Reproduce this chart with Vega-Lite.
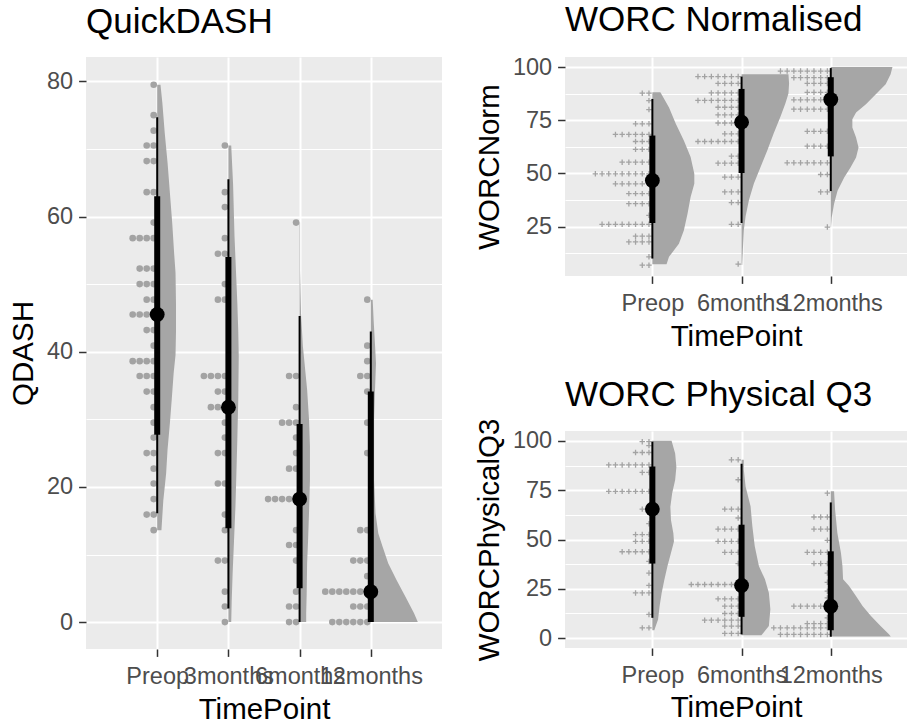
{
  "$schema": "https://vega.github.io/schema/vega-lite/v6.json",
  "background": "white",
  "padding": {"left": 8, "top": 3, "right": 0, "bottom": 0},
  "config": {
    "view": {"fill": "#EBEBEB", "stroke": null},
    "axis": {"domain": false, "gridColor": "white", "tickColor": "#333333", "tickSize": 7.4, "tickWidth": 1.5, "labelColor": "#4D4D4D", "labelFont": "Liberation Sans", "labelFontSize": 23.5, "labelPadding": 6, "titleFont": "Liberation Sans", "titleFontSize": 29.5, "titleFontWeight": "normal", "titleColor": "black", "titlePadding": 8},
    "axisX": {"labelAngle": 0, "labelPadding": 8, "titlePadding": 8},
    "axisY": {"labelOverlap": false, "tickCount": 50},
    "title": {"anchor": "start", "frame": "group", "font": "Liberation Sans", "fontSize": 35, "fontWeight": "normal", "color": "black", "baseline": "alphabetic", "offset": 17}
  },
  "datasets": {
    "qd_dots": [
      {"t":"Preop","v":79.5},{"t":"Preop","v":75},{"t":"Preop","v":72.7},{"t":"Preop","v":70.5},{"t":"Preop","v":70.5},{"t":"Preop","v":68.2},{"t":"Preop","v":68.2},{"t":"Preop","v":63.6},{"t":"Preop","v":63.6},{"t":"Preop","v":59.1},{"t":"Preop","v":56.8},{"t":"Preop","v":56.8},{"t":"Preop","v":56.8},{"t":"Preop","v":56.8},{"t":"Preop","v":52.3},{"t":"Preop","v":52.3},{"t":"Preop","v":52.3},{"t":"Preop","v":50},{"t":"Preop","v":50},{"t":"Preop","v":50},{"t":"Preop","v":47.7},{"t":"Preop","v":47.7},{"t":"Preop","v":45.5},{"t":"Preop","v":45.5},{"t":"Preop","v":45.5},{"t":"Preop","v":45.5},{"t":"Preop","v":43.2},{"t":"Preop","v":43.2},{"t":"Preop","v":40.9},{"t":"Preop","v":38.6},{"t":"Preop","v":38.6},{"t":"Preop","v":38.6},{"t":"Preop","v":38.6},{"t":"Preop","v":36.4},{"t":"Preop","v":36.4},{"t":"Preop","v":36.4},{"t":"Preop","v":34.1},{"t":"Preop","v":34.1},{"t":"Preop","v":31.8},{"t":"Preop","v":29.5},{"t":"Preop","v":27.3},{"t":"Preop","v":25},{"t":"Preop","v":25},{"t":"Preop","v":22.7},{"t":"Preop","v":20.5},{"t":"Preop","v":18.2},{"t":"Preop","v":15.9},{"t":"Preop","v":15.9},{"t":"Preop","v":13.6},
      {"t":"3months","v":70.5},{"t":"3months","v":63.6},{"t":"3months","v":61.4},{"t":"3months","v":56.8},{"t":"3months","v":54.5},{"t":"3months","v":54.5},{"t":"3months","v":50},{"t":"3months","v":47.7},{"t":"3months","v":47.7},{"t":"3months","v":36.4},{"t":"3months","v":36.4},{"t":"3months","v":36.4},{"t":"3months","v":36.4},{"t":"3months","v":34.1},{"t":"3months","v":34.1},{"t":"3months","v":31.8},{"t":"3months","v":31.8},{"t":"3months","v":31.8},{"t":"3months","v":29.5},{"t":"3months","v":27.3},{"t":"3months","v":25},{"t":"3months","v":25},{"t":"3months","v":20.5},{"t":"3months","v":20.5},{"t":"3months","v":15.9},{"t":"3months","v":13.6},{"t":"3months","v":9.1},{"t":"3months","v":9.1},{"t":"3months","v":4.5},{"t":"3months","v":2.3},{"t":"3months","v":0},
      {"t":"6months","v":59.1},{"t":"6months","v":36.4},{"t":"6months","v":36.4},{"t":"6months","v":31.8},{"t":"6months","v":29.5},{"t":"6months","v":29.5},{"t":"6months","v":29.5},{"t":"6months","v":27.3},{"t":"6months","v":25},{"t":"6months","v":22.7},{"t":"6months","v":22.7},{"t":"6months","v":18.2},{"t":"6months","v":18.2},{"t":"6months","v":18.2},{"t":"6months","v":18.2},{"t":"6months","v":18.2},{"t":"6months","v":13.6},{"t":"6months","v":11.4},{"t":"6months","v":11.4},{"t":"6months","v":9.1},{"t":"6months","v":4.5},{"t":"6months","v":2.3},{"t":"6months","v":2.3},{"t":"6months","v":0},{"t":"6months","v":0},
      {"t":"12months","v":47.7},{"t":"12months","v":40.9},{"t":"12months","v":38.6},{"t":"12months","v":36.4},{"t":"12months","v":36.4},{"t":"12months","v":34.1},{"t":"12months","v":29.5},{"t":"12months","v":25},{"t":"12months","v":13.6},{"t":"12months","v":13.6},{"t":"12months","v":9.1},{"t":"12months","v":9.1},{"t":"12months","v":9.1},{"t":"12months","v":6.8},{"t":"12months","v":4.5},{"t":"12months","v":4.5},{"t":"12months","v":4.5},{"t":"12months","v":4.5},{"t":"12months","v":4.5},{"t":"12months","v":4.5},{"t":"12months","v":4.5},{"t":"12months","v":2.3},{"t":"12months","v":2.3},{"t":"12months","v":2.3},{"t":"12months","v":0},{"t":"12months","v":0},{"t":"12months","v":0},{"t":"12months","v":0},{"t":"12months","v":0},{"t":"12months","v":0}
    ],
    "qd_slab": [
      {"t":"Preop","v":79.5,"d":0.07},{"t":"Preop","v":76.8,"d":0.11},{"t":"Preop","v":72.4,"d":0.16},{"t":"Preop","v":68,"d":0.22},{"t":"Preop","v":63.5,"d":0.27},{"t":"Preop","v":59,"d":0.32},{"t":"Preop","v":54.6,"d":0.36},{"t":"Preop","v":51.7,"d":0.39},{"t":"Preop","v":47,"d":0.4},{"t":"Preop","v":43,"d":0.4},{"t":"Preop","v":39.5,"d":0.39},{"t":"Preop","v":36.8,"d":0.35},{"t":"Preop","v":33,"d":0.31},{"t":"Preop","v":29.4,"d":0.27},{"t":"Preop","v":25.5,"d":0.22},{"t":"Preop","v":22,"d":0.19},{"t":"Preop","v":18,"d":0.13},{"t":"Preop","v":13.6,"d":0.09},
      {"t":"3months","v":70.5,"d":0.06},{"t":"3months","v":64.7,"d":0.1},{"t":"3months","v":57.1,"d":0.13},{"t":"3months","v":52.1,"d":0.16},{"t":"3months","v":47.2,"d":0.19},{"t":"3months","v":43,"d":0.21},{"t":"3months","v":39.3,"d":0.22},{"t":"3months","v":33,"d":0.21},{"t":"3months","v":27,"d":0.19},{"t":"3months","v":22,"d":0.17},{"t":"3months","v":17.1,"d":0.15},{"t":"3months","v":12.1,"d":0.12},{"t":"3months","v":7.2,"d":0.09},{"t":"3months","v":3,"d":0.07},{"t":"3months","v":0,"d":0.06},
      {"t":"6months","v":59.1,"d":0.01},{"t":"6months","v":52,"d":0.01},{"t":"6months","v":45.7,"d":0.03},{"t":"6months","v":40.8,"d":0.07},{"t":"6months","v":34.4,"d":0.16},{"t":"6months","v":30,"d":0.2},{"t":"6months","v":26,"d":0.22},{"t":"6months","v":21,"d":0.22},{"t":"6months","v":16.1,"d":0.2},{"t":"6months","v":12,"d":0.18},{"t":"6months","v":8.7,"d":0.16},{"t":"6months","v":4,"d":0.15},{"t":"6months","v":1.3,"d":0.14},{"t":"6months","v":0,"d":0.14},
      {"t":"12months","v":47.7,"d":0.04},{"t":"12months","v":44.7,"d":0.06},{"t":"12months","v":41,"d":0.09},{"t":"12months","v":38.3,"d":0.11},{"t":"12months","v":34.4,"d":0.09},{"t":"12months","v":30,"d":0.07},{"t":"12months","v":26,"d":0.07},{"t":"12months","v":21,"d":0.07},{"t":"12months","v":16.1,"d":0.1},{"t":"12months","v":13.1,"d":0.16},{"t":"12months","v":11.2,"d":0.25},{"t":"12months","v":8.7,"d":0.37},{"t":"12months","v":6.2,"d":0.55},{"t":"12months","v":3.7,"d":0.74},{"t":"12months","v":1.3,"d":0.92},{"t":"12months","v":0,"d":1}
    ],
    "qd_sum": [
      {"t":"Preop","med":45.5,"lo66":27.7,"hi66":63.0,"lo95":16.1,"hi95":74.7},
      {"t":"3months","med":31.8,"lo66":13.9,"hi66":54.0,"lo95":2.0,"hi95":65.5},
      {"t":"6months","med":18.2,"lo66":5.0,"hi66":29.3,"lo95":0,"hi95":45.3},
      {"t":"12months","med":4.5,"lo66":0,"hi66":34.1,"lo95":0,"hi95":43.0}
    ],
    "wn_dots": [
      {"t":"Preop","v":87.7},{"t":"Preop","v":87.7},{"t":"Preop","v":84.2},{"t":"Preop","v":80},{"t":"Preop","v":73.3},{"t":"Preop","v":73.3},{"t":"Preop","v":73.3},{"t":"Preop","v":68.3},{"t":"Preop","v":68.3},{"t":"Preop","v":68.3},{"t":"Preop","v":68.3},{"t":"Preop","v":68.3},{"t":"Preop","v":68.3},{"t":"Preop","v":65},{"t":"Preop","v":65},{"t":"Preop","v":65},{"t":"Preop","v":61.3},{"t":"Preop","v":61.3},{"t":"Preop","v":61.3},{"t":"Preop","v":55.3},{"t":"Preop","v":55.3},{"t":"Preop","v":55.3},{"t":"Preop","v":55.3},{"t":"Preop","v":55.3},{"t":"Preop","v":49.8},{"t":"Preop","v":49.8},{"t":"Preop","v":49.8},{"t":"Preop","v":49.8},{"t":"Preop","v":49.8},{"t":"Preop","v":49.8},{"t":"Preop","v":49.8},{"t":"Preop","v":49.8},{"t":"Preop","v":49.8},{"t":"Preop","v":45.1},{"t":"Preop","v":45.1},{"t":"Preop","v":45.1},{"t":"Preop","v":45.1},{"t":"Preop","v":45.1},{"t":"Preop","v":45.1},{"t":"Preop","v":40.5},{"t":"Preop","v":40.5},{"t":"Preop","v":40.5},{"t":"Preop","v":40.5},{"t":"Preop","v":35.8},{"t":"Preop","v":35.8},{"t":"Preop","v":35.8},{"t":"Preop","v":35.8},{"t":"Preop","v":30.3},{"t":"Preop","v":26.1},{"t":"Preop","v":26.1},{"t":"Preop","v":26.1},{"t":"Preop","v":26.1},{"t":"Preop","v":26.1},{"t":"Preop","v":26.1},{"t":"Preop","v":26.1},{"t":"Preop","v":26.1},{"t":"Preop","v":20.5},{"t":"Preop","v":20.5},{"t":"Preop","v":20.5},{"t":"Preop","v":17.8},{"t":"Preop","v":17.8},{"t":"Preop","v":17.8},{"t":"Preop","v":17.8},{"t":"Preop","v":10.8},{"t":"Preop","v":6.9},{"t":"Preop","v":6.9},
      {"t":"6months","v":95.5},{"t":"6months","v":95.5},{"t":"6months","v":95.5},{"t":"6months","v":95.5},{"t":"6months","v":95.5},{"t":"6months","v":95.5},{"t":"6months","v":95.5},{"t":"6months","v":92.3},{"t":"6months","v":92.3},{"t":"6months","v":92.3},{"t":"6months","v":92.3},{"t":"6months","v":87.8},{"t":"6months","v":87.8},{"t":"6months","v":87.8},{"t":"6months","v":87.8},{"t":"6months","v":87.8},{"t":"6months","v":84.3},{"t":"6months","v":84.3},{"t":"6months","v":84.3},{"t":"6months","v":84.3},{"t":"6months","v":84.3},{"t":"6months","v":84.3},{"t":"6months","v":84.3},{"t":"6months","v":81.1},{"t":"6months","v":81.1},{"t":"6months","v":81.1},{"t":"6months","v":81.1},{"t":"6months","v":77.5},{"t":"6months","v":77.5},{"t":"6months","v":77.5},{"t":"6months","v":77.5},{"t":"6months","v":73.7},{"t":"6months","v":73.7},{"t":"6months","v":73.7},{"t":"6months","v":73.7},{"t":"6months","v":68.6},{"t":"6months","v":68.6},{"t":"6months","v":68.6},{"t":"6months","v":65},{"t":"6months","v":65},{"t":"6months","v":65},{"t":"6months","v":65},{"t":"6months","v":65},{"t":"6months","v":65},{"t":"6months","v":65},{"t":"6months","v":58.1},{"t":"6months","v":58.1},{"t":"6months","v":54.8},{"t":"6months","v":54.8},{"t":"6months","v":54.8},{"t":"6months","v":54.8},{"t":"6months","v":48.3},{"t":"6months","v":48.3},{"t":"6months","v":48.3},{"t":"6months","v":41.3},{"t":"6months","v":41.3},{"t":"6months","v":41.3},{"t":"6months","v":36.3},{"t":"6months","v":36.3},{"t":"6months","v":26.1},{"t":"6months","v":26.1},{"t":"6months","v":7.4},
      {"t":"12months","v":98.1},{"t":"12months","v":98.1},{"t":"12months","v":98.1},{"t":"12months","v":98.1},{"t":"12months","v":98.1},{"t":"12months","v":98.1},{"t":"12months","v":98.1},{"t":"12months","v":98.1},{"t":"12months","v":95},{"t":"12months","v":95},{"t":"12months","v":95},{"t":"12months","v":95},{"t":"12months","v":95},{"t":"12months","v":95},{"t":"12months","v":92.3},{"t":"12months","v":92.3},{"t":"12months","v":92.3},{"t":"12months","v":92.3},{"t":"12months","v":88.1},{"t":"12months","v":88.1},{"t":"12months","v":88.1},{"t":"12months","v":88.1},{"t":"12months","v":84.6},{"t":"12months","v":84.6},{"t":"12months","v":84.6},{"t":"12months","v":84.6},{"t":"12months","v":84.6},{"t":"12months","v":84.6},{"t":"12months","v":80.2},{"t":"12months","v":80.2},{"t":"12months","v":80.2},{"t":"12months","v":80.2},{"t":"12months","v":80.2},{"t":"12months","v":80.2},{"t":"12months","v":69.8},{"t":"12months","v":69.8},{"t":"12months","v":69.8},{"t":"12months","v":69.8},{"t":"12months","v":62.8},{"t":"12months","v":62.8},{"t":"12months","v":62.8},{"t":"12months","v":62.8},{"t":"12months","v":55},{"t":"12months","v":55},{"t":"12months","v":55},{"t":"12months","v":55},{"t":"12months","v":55},{"t":"12months","v":55},{"t":"12months","v":55},{"t":"12months","v":49.5},{"t":"12months","v":49.5},{"t":"12months","v":41.3},{"t":"12months","v":41.3},{"t":"12months","v":24.8}
    ],
    "wn_slab": [
      {"t":"Preop","v":88.1,"d":0.13},{"t":"Preop","v":81,"d":0.27},{"t":"Preop","v":73.3,"d":0.38},{"t":"Preop","v":65.5,"d":0.51},{"t":"Preop","v":57.7,"d":0.62},{"t":"Preop","v":49.8,"d":0.68},{"t":"Preop","v":45.1,"d":0.68},{"t":"Preop","v":38.9,"d":0.62},{"t":"Preop","v":31.1,"d":0.57},{"t":"Preop","v":23.2,"d":0.51},{"t":"Preop","v":17,"d":0.43},{"t":"Preop","v":10.8,"d":0.27},{"t":"Preop","v":7.3,"d":0.23},
      {"t":"6months","v":96.6,"d":0.76},{"t":"6months","v":92.3,"d":0.77},{"t":"6months","v":87.5,"d":0.76},{"t":"6months","v":82.8,"d":0.71},{"t":"6months","v":76.6,"d":0.63},{"t":"6months","v":68.8,"d":0.52},{"t":"6months","v":61,"d":0.42},{"t":"6months","v":53.1,"d":0.31},{"t":"6months","v":45.3,"d":0.2},{"t":"6months","v":37.5,"d":0.12},{"t":"6months","v":29.7,"d":0.065},{"t":"6months","v":23.4,"d":0.037},{"t":"6months","v":14.1,"d":0.021},{"t":"6months","v":7,"d":0.011},
      {"t":"12months","v":100,"d":1},{"t":"12months","v":96.6,"d":0.97},{"t":"12months","v":91.9,"d":0.89},{"t":"12months","v":87.2,"d":0.73},{"t":"12months","v":82.5,"d":0.57},{"t":"12months","v":78.6,"d":0.41},{"t":"12months","v":75.5,"d":0.35},{"t":"12months","v":71.6,"d":0.35},{"t":"12months","v":66.9,"d":0.41},{"t":"12months","v":62.2,"d":0.45},{"t":"12months","v":57.5,"d":0.41},{"t":"12months","v":52.8,"d":0.32},{"t":"12months","v":48.2,"d":0.22},{"t":"12months","v":41.9,"d":0.11},{"t":"12months","v":35.6,"d":0.053},{"t":"12months","v":29.4,"d":0.016},{"t":"12months","v":24.7,"d":0.005}
    ],
    "wn_sum": [
      {"t":"Preop","med":46.7,"lo66":26.7,"hi66":67.8,"lo95":10.0,"hi95":85.0},
      {"t":"6months","med":74.1,"lo66":50.2,"hi66":89.7,"lo95":26.7,"hi95":95.5},
      {"t":"12months","med":84.7,"lo66":58.0,"hi66":95.2,"lo95":41.7,"hi95":99.5}
    ],
    "wp_dots": [
      {"t":"Preop","v":99.6},{"t":"Preop","v":99.6},{"t":"Preop","v":97.6},{"t":"Preop","v":94.1},{"t":"Preop","v":94.1},{"t":"Preop","v":94.1},{"t":"Preop","v":87.8},{"t":"Preop","v":87.8},{"t":"Preop","v":87.8},{"t":"Preop","v":87.8},{"t":"Preop","v":87.8},{"t":"Preop","v":87.8},{"t":"Preop","v":87.8},{"t":"Preop","v":84},{"t":"Preop","v":84},{"t":"Preop","v":74.4},{"t":"Preop","v":74.4},{"t":"Preop","v":74.4},{"t":"Preop","v":74.4},{"t":"Preop","v":74.4},{"t":"Preop","v":74.4},{"t":"Preop","v":74.4},{"t":"Preop","v":65.4},{"t":"Preop","v":65.4},{"t":"Preop","v":58},{"t":"Preop","v":52.5},{"t":"Preop","v":52.5},{"t":"Preop","v":52.5},{"t":"Preop","v":49.1},{"t":"Preop","v":49.1},{"t":"Preop","v":49.1},{"t":"Preop","v":43.8},{"t":"Preop","v":43.8},{"t":"Preop","v":43.8},{"t":"Preop","v":43.8},{"t":"Preop","v":43.8},{"t":"Preop","v":38.9},{"t":"Preop","v":33},{"t":"Preop","v":26.7},{"t":"Preop","v":22.9},{"t":"Preop","v":22.9},{"t":"Preop","v":22.9},{"t":"Preop","v":12},{"t":"Preop","v":5.2},{"t":"Preop","v":5.2},
      {"t":"6months","v":90.4},{"t":"6months","v":90.4},{"t":"6months","v":80.3},{"t":"6months","v":65.4},{"t":"6months","v":65.4},{"t":"6months","v":65.4},{"t":"6months","v":60.9},{"t":"6months","v":55.3},{"t":"6months","v":55.3},{"t":"6months","v":55.3},{"t":"6months","v":55.3},{"t":"6months","v":49.1},{"t":"6months","v":49.1},{"t":"6months","v":49.1},{"t":"6months","v":49.1},{"t":"6months","v":43.5},{"t":"6months","v":43.5},{"t":"6months","v":43.5},{"t":"6months","v":37.8},{"t":"6months","v":27.2},{"t":"6months","v":27.2},{"t":"6months","v":27.2},{"t":"6months","v":27.2},{"t":"6months","v":27.2},{"t":"6months","v":27.2},{"t":"6months","v":27.2},{"t":"6months","v":27.2},{"t":"6months","v":19.9},{"t":"6months","v":19.9},{"t":"6months","v":19.9},{"t":"6months","v":19.9},{"t":"6months","v":16.2},{"t":"6months","v":16.2},{"t":"6months","v":16.2},{"t":"6months","v":12.5},{"t":"6months","v":12.5},{"t":"6months","v":12.5},{"t":"6months","v":9.1},{"t":"6months","v":9.1},{"t":"6months","v":9.1},{"t":"6months","v":9.1},{"t":"6months","v":9.1},{"t":"6months","v":9.1},{"t":"6months","v":6.1},{"t":"6months","v":6.1},{"t":"6months","v":6.1},{"t":"6months","v":2.4},{"t":"6months","v":2.4},{"t":"6months","v":2.4},
      {"t":"12months","v":73.5},{"t":"12months","v":61.4},{"t":"12months","v":61.4},{"t":"12months","v":61.4},{"t":"12months","v":55.3},{"t":"12months","v":55.3},{"t":"12months","v":55.3},{"t":"12months","v":49.6},{"t":"12months","v":43.5},{"t":"12months","v":43.5},{"t":"12months","v":43.5},{"t":"12months","v":43.5},{"t":"12months","v":37.8},{"t":"12months","v":37.8},{"t":"12months","v":37.8},{"t":"12months","v":33},{"t":"12months","v":28.3},{"t":"12months","v":23.8},{"t":"12months","v":20.4},{"t":"12months","v":16.2},{"t":"12months","v":16.2},{"t":"12months","v":16.2},{"t":"12months","v":16.2},{"t":"12months","v":16.2},{"t":"12months","v":16.2},{"t":"12months","v":10.3},{"t":"12months","v":7.4},{"t":"12months","v":7.4},{"t":"12months","v":7.4},{"t":"12months","v":7.4},{"t":"12months","v":5.2},{"t":"12months","v":5.2},{"t":"12months","v":5.2},{"t":"12months","v":5.2},{"t":"12months","v":5.2},{"t":"12months","v":5.2},{"t":"12months","v":5.2},{"t":"12months","v":5.2},{"t":"12months","v":5.2},{"t":"12months","v":1.9},{"t":"12months","v":1.9},{"t":"12months","v":1.9},{"t":"12months","v":1.9},{"t":"12months","v":1.9},{"t":"12months","v":1.9},{"t":"12months","v":1.9},{"t":"12months","v":1.9}
    ],
    "wp_slab": [
      {"t":"Preop","v":100,"d":0.32},{"t":"Preop","v":93.6,"d":0.38},{"t":"Preop","v":86.8,"d":0.4},{"t":"Preop","v":80.1,"d":0.38},{"t":"Preop","v":73.4,"d":0.33},{"t":"Preop","v":66.6,"d":0.3},{"t":"Preop","v":59.9,"d":0.31},{"t":"Preop","v":53.2,"d":0.35},{"t":"Preop","v":49,"d":0.36},{"t":"Preop","v":43.1,"d":0.31},{"t":"Preop","v":36.3,"d":0.25},{"t":"Preop","v":29.6,"d":0.2},{"t":"Preop","v":22.9,"d":0.155},{"t":"Preop","v":16.1,"d":0.12},{"t":"Preop","v":9.4,"d":0.095},{"t":"Preop","v":5.2,"d":0.045},{"t":"Preop","v":4,"d":0.033},
      {"t":"6months","v":90.4,"d":0.038},{"t":"6months","v":85.3,"d":0.038},{"t":"6months","v":76.9,"d":0.067},{"t":"6months","v":66.8,"d":0.15},{"t":"6months","v":56.7,"d":0.18},{"t":"6months","v":46.6,"d":0.22},{"t":"6months","v":36.5,"d":0.29},{"t":"6months","v":29.8,"d":0.39},{"t":"6months","v":23,"d":0.455},{"t":"6months","v":14.6,"d":0.48},{"t":"6months","v":6.2,"d":0.455},{"t":"6months","v":2,"d":0.345},{"t":"6months","v":1.5,"d":0.33},
      {"t":"12months","v":74.4,"d":0.055},{"t":"12months","v":65.1,"d":0.072},{"t":"12months","v":53.3,"d":0.11},{"t":"12months","v":43.2,"d":0.17},{"t":"12months","v":36.5,"d":0.195},{"t":"12months","v":29.8,"d":0.205},{"t":"12months","v":26.4,"d":0.305},{"t":"12months","v":21.3,"d":0.42},{"t":"12months","v":16.3,"d":0.53},{"t":"12months","v":11.2,"d":0.67},{"t":"12months","v":6.2,"d":0.83},{"t":"12months","v":2,"d":0.97},{"t":"12months","v":0.8,"d":1}
    ],
    "wp_sum": [
      {"t":"Preop","med":65.4,"lo66":37.8,"hi66":87.0,"lo95":10.3,"hi95":99.6},
      {"t":"6months","med":26.7,"lo66":10.8,"hi66":57.5,"lo95":1.9,"hi95":88.4},
      {"t":"12months","med":16.2,"lo66":4.0,"hi66":44.0,"lo95":0.7,"hi95":68.8}
    ]
  },
  "spacing": 32,
  "hconcat": [
    {
      "title": {"text": "QuickDASH"},
      "width": 356,
      "height": 592,
      "layer": [
        {
          "data": {"name": "qd_slab"},
          "mark": {"type": "area", "orient": "horizontal", "color": "#A6A6A6", "opacity": 1},
          "encoding": {
            "x": {"field": "t", "type": "nominal", "title": "TimePoint", "scale": {"type": "point", "domain": ["Preop", "3months", "6months", "12months"], "padding": 1, "align": 0.5}, "axis": {"grid": true, "gridWidth": 2, "labelAngle": 0, "labelOverlap": false}},
            "x2": {"field": "t"},
            "xOffset": {"field": "d", "type": "quantitative", "scale": {"domain": [0, 1], "range": [0, 47], "zero": false}},
            "y": {"field": "v", "type": "quantitative", "stack": null, "title": "QDASH", "scale": {"domain": [-3.98, 83.6], "nice": false, "zero": false}, "axis": {"values": [0, 10, 20, 30, 40, 50, 60, 70, 80], "tickCount": 50, "labelOverlap": false, "labelExpr": "abs(datum.value / 20 - round(datum.value / 20)) < 0.01 ? datum.label : ''", "gridWidth": {"condition": {"test": "abs(datum.value / 20 - round(datum.value / 20)) > 0.01", "value": 1}, "value": 2}, "tickOpacity": {"condition": {"test": "abs(datum.value / 20 - round(datum.value / 20)) > 0.01", "value": 0}, "value": 1}}},
            "detail": {"field": "t"}
          }
        },
        {
          "data": {"name": "qd_dots"},
          "transform": [{"window": [{"op": "row_number", "as": "rank"}], "groupby": ["t", "v"]}],
          "mark": {"type": "point", "filled": true, "size": 44, "color": "#A3A3A3", "opacity": 1},
          "encoding": {
            "x": {"field": "t", "type": "nominal", "title": "TimePoint", "scale": {"type": "point", "domain": ["Preop", "3months", "6months", "12months"], "padding": 1, "align": 0.5}},
            "xOffset": {"field": "rank", "type": "quantitative", "scale": {"domain": [1, 11], "range": [-3.5, -73.5], "zero": false}},
            "y": {"field": "v", "type": "quantitative", "title": "QDASH"}
          }
        },
        {
          "data": {"name": "qd_sum"},
          "mark": {"type": "rule", "color": "black", "strokeWidth": 2},
          "encoding": {
            "x": {"field": "t", "type": "nominal", "title": "TimePoint", "scale": {"type": "point", "domain": ["Preop", "3months", "6months", "12months"], "padding": 1, "align": 0.5}},
            "y": {"field": "lo95", "type": "quantitative", "title": "QDASH"},
            "y2": {"field": "hi95"}
          }
        },
        {
          "data": {"name": "qd_sum"},
          "mark": {"type": "rule", "color": "black", "strokeWidth": 6},
          "encoding": {
            "x": {"field": "t", "type": "nominal", "title": "TimePoint", "scale": {"type": "point", "domain": ["Preop", "3months", "6months", "12months"], "padding": 1, "align": 0.5}},
            "y": {"field": "lo66", "type": "quantitative", "title": "QDASH"},
            "y2": {"field": "hi66"}
          }
        },
        {
          "data": {"name": "qd_sum"},
          "mark": {"type": "point", "filled": true, "size": 220, "color": "black", "opacity": 1},
          "encoding": {
            "x": {"field": "t", "type": "nominal", "title": "TimePoint", "scale": {"type": "point", "domain": ["Preop", "3months", "6months", "12months"], "padding": 1, "align": 0.5}},
            "y": {"field": "med", "type": "quantitative", "title": "QDASH"}
          }
        }
      ],
      "resolve": {"scale": {"xOffset": "independent"}}
    },
    {
      "spacing": 26,
      "vconcat": [
        {
          "title": {"text": "WORC Normalised"},
          "width": 342,
          "height": 219,
          "layer": [
            {
              "data": {"name": "wn_slab"},
              "mark": {"type": "area", "orient": "horizontal", "color": "#A6A6A6", "opacity": 1},
              "encoding": {
                "x": {"field": "t", "type": "nominal", "title": "TimePoint", "scale": {"type": "point", "domain": ["Preop", "6months", "12months"], "padding": 0.917, "align": 0.534}, "axis": {"grid": true, "gridWidth": 2, "labelAngle": 0, "labelOverlap": false}},
                "x2": {"field": "t"},
                "xOffset": {"field": "d", "type": "quantitative", "scale": {"domain": [0, 1], "range": [0, 61.7], "zero": false}},
                "y": {"field": "v", "type": "quantitative", "stack": null, "title": "WORCNorm", "scale": {"domain": [1.8, 104.7], "nice": false, "zero": false}, "axis": {"values": [12.5, 25, 37.5, 50, 62.5, 75, 87.5, 100], "tickCount": 50, "labelOverlap": false, "labelExpr": "abs(datum.value / 25 - round(datum.value / 25)) < 0.01 ? datum.label : ''", "gridWidth": {"condition": {"test": "abs(datum.value / 25 - round(datum.value / 25)) > 0.01", "value": 1}, "value": 2}, "tickOpacity": {"condition": {"test": "abs(datum.value / 25 - round(datum.value / 25)) > 0.01", "value": 0}, "value": 1}}},
                "detail": {"field": "t"}
              }
            },
            {
              "data": {"name": "wn_dots"},
              "transform": [{"window": [{"op": "row_number", "as": "rank"}], "groupby": ["t", "v"]}],
              "mark": {"type": "point", "filled": false, "shape": "M-1,0L1,0M0,-1L0,1", "size": 30, "strokeWidth": 1.3, "color": "#A3A3A3", "opacity": 1},
              "encoding": {
                "x": {"field": "t", "type": "nominal", "title": "TimePoint", "scale": {"type": "point", "domain": ["Preop", "6months", "12months"], "padding": 0.917, "align": 0.534}},
                "xOffset": {"field": "rank", "type": "quantitative", "scale": {"domain": [1, 11], "range": [-3.4, -70.4], "zero": false}},
                "y": {"field": "v", "type": "quantitative", "title": "WORCNorm"}
              }
            },
            {
              "data": {"name": "wn_sum"},
              "mark": {"type": "rule", "color": "black", "strokeWidth": 2},
              "encoding": {
                "x": {"field": "t", "type": "nominal", "title": "TimePoint", "scale": {"type": "point", "domain": ["Preop", "6months", "12months"], "padding": 0.917, "align": 0.534}},
                "y": {"field": "lo95", "type": "quantitative", "title": "WORCNorm"},
                "y2": {"field": "hi95"}
              }
            },
            {
              "data": {"name": "wn_sum"},
              "mark": {"type": "rule", "color": "black", "strokeWidth": 6},
              "encoding": {
                "x": {"field": "t", "type": "nominal", "title": "TimePoint", "scale": {"type": "point", "domain": ["Preop", "6months", "12months"], "padding": 0.917, "align": 0.534}},
                "y": {"field": "lo66", "type": "quantitative", "title": "WORCNorm"},
                "y2": {"field": "hi66"}
              }
            },
            {
              "data": {"name": "wn_sum"},
              "mark": {"type": "point", "filled": true, "size": 220, "color": "black", "opacity": 1},
              "encoding": {
                "x": {"field": "t", "type": "nominal", "title": "TimePoint", "scale": {"type": "point", "domain": ["Preop", "6months", "12months"], "padding": 0.917, "align": 0.534}},
                "y": {"field": "med", "type": "quantitative", "title": "WORCNorm"}
              }
            }
          ],
          "resolve": {"scale": {"xOffset": "independent"}}
        },
        {
          "title": {"text": "WORC Physical Q3", "offset": 5},
          "width": 342,
          "height": 217,
          "layer": [
            {
              "data": {"name": "wp_slab"},
              "mark": {"type": "area", "orient": "horizontal", "color": "#A6A6A6", "opacity": 1},
              "encoding": {
                "x": {"field": "t", "type": "nominal", "title": "TimePoint", "scale": {"type": "point", "domain": ["Preop", "6months", "12months"], "padding": 0.917, "align": 0.534}, "axis": {"grid": true, "gridWidth": 2, "labelAngle": 0, "labelOverlap": false, "titlePadding": 7}},
                "x2": {"field": "t"},
                "xOffset": {"field": "d", "type": "quantitative", "scale": {"domain": [0, 1], "range": [0, 60], "zero": false}},
                "y": {"field": "v", "type": "quantitative", "stack": null, "title": "WORCPhysicalQ3", "scale": {"domain": [-5, 105], "nice": false, "zero": false}, "axis": {"values": [0, 12.5, 25, 37.5, 50, 62.5, 75, 87.5, 100], "tickCount": 50, "labelOverlap": false, "labelExpr": "abs(datum.value / 25 - round(datum.value / 25)) < 0.01 ? datum.label : ''", "gridWidth": {"condition": {"test": "abs(datum.value / 25 - round(datum.value / 25)) > 0.01", "value": 1}, "value": 2}, "tickOpacity": {"condition": {"test": "abs(datum.value / 25 - round(datum.value / 25)) > 0.01", "value": 0}, "value": 1}}},
                "detail": {"field": "t"}
              }
            },
            {
              "data": {"name": "wp_dots"},
              "transform": [{"window": [{"op": "row_number", "as": "rank"}], "groupby": ["t", "v"]}],
              "mark": {"type": "point", "filled": false, "shape": "M-1,0L1,0M0,-1L0,1", "size": 30, "strokeWidth": 1.3, "color": "#A3A3A3", "opacity": 1},
              "encoding": {
                "x": {"field": "t", "type": "nominal", "title": "TimePoint", "scale": {"type": "point", "domain": ["Preop", "6months", "12months"], "padding": 0.917, "align": 0.534}},
                "xOffset": {"field": "rank", "type": "quantitative", "scale": {"domain": [1, 11], "range": [-3.4, -70.4], "zero": false}},
                "y": {"field": "v", "type": "quantitative", "title": "WORCPhysicalQ3"}
              }
            },
            {
              "data": {"name": "wp_sum"},
              "mark": {"type": "rule", "color": "black", "strokeWidth": 2},
              "encoding": {
                "x": {"field": "t", "type": "nominal", "title": "TimePoint", "scale": {"type": "point", "domain": ["Preop", "6months", "12months"], "padding": 0.917, "align": 0.534}},
                "y": {"field": "lo95", "type": "quantitative", "title": "WORCPhysicalQ3"},
                "y2": {"field": "hi95"}
              }
            },
            {
              "data": {"name": "wp_sum"},
              "mark": {"type": "rule", "color": "black", "strokeWidth": 6},
              "encoding": {
                "x": {"field": "t", "type": "nominal", "title": "TimePoint", "scale": {"type": "point", "domain": ["Preop", "6months", "12months"], "padding": 0.917, "align": 0.534}},
                "y": {"field": "lo66", "type": "quantitative", "title": "WORCPhysicalQ3"},
                "y2": {"field": "hi66"}
              }
            },
            {
              "data": {"name": "wp_sum"},
              "mark": {"type": "point", "filled": true, "size": 220, "color": "black", "opacity": 1},
              "encoding": {
                "x": {"field": "t", "type": "nominal", "title": "TimePoint", "scale": {"type": "point", "domain": ["Preop", "6months", "12months"], "padding": 0.917, "align": 0.534}},
                "y": {"field": "med", "type": "quantitative", "title": "WORCPhysicalQ3"}
              }
            }
          ],
          "resolve": {"scale": {"xOffset": "independent"}}
        }
      ]
    }
  ]
}
